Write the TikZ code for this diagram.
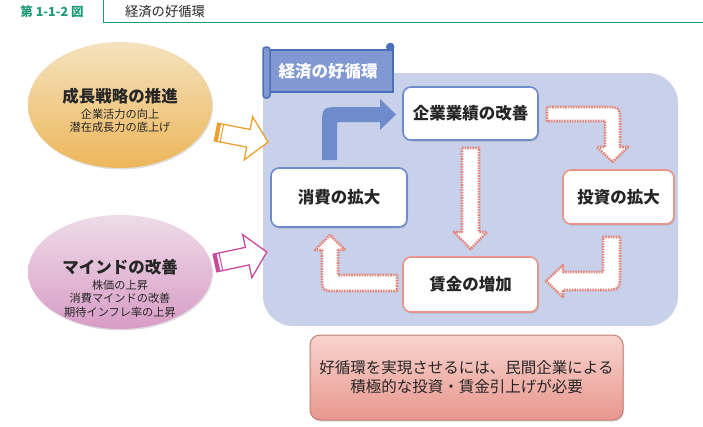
\documentclass[tikz,border=0pt]{standalone}
\usepackage{fontspec}
\setmainfont{Noto Sans CJK JP}
\usetikzlibrary{shadows}

\definecolor{hdgreen}{HTML}{1E9A7A}
\definecolor{cyclebg}{HTML}{C9D0EA}
\definecolor{bannerfill}{HTML}{8198D3}
\definecolor{bannerline}{HTML}{4B70BA}
\definecolor{blueline}{HTML}{6E8CCC}
\definecolor{salmon}{HTML}{E8948A}
\definecolor{dotsalmon}{HTML}{E2857B}
\definecolor{orangeline}{HTML}{EBA12E}
\definecolor{magline}{HTML}{C94A9A}
\definecolor{orangetop}{HTML}{F4E2BE}
\definecolor{orangebot}{HTML}{EDB65A}
\definecolor{pinktop}{HTML}{EEDCE8}
\definecolor{pinkbot}{HTML}{D89CC6}
\definecolor{needtop}{HTML}{F8D3CE}
\definecolor{needbot}{HTML}{E7978D}

\tikzset{
  card/.style={draw, fill=white, rounded corners=8pt, line width=1.6pt,
    font=\bfseries\fontsize{16.5}{18}\selectfont, text=black!85,
    drop shadow={shadow xshift=1pt, shadow yshift=-1.5pt, opacity=0.3}},
  bluecard/.style={card, draw=blueline},
  redcard/.style={card, draw=salmon},
  dotarrow/.style={fill=white, draw=dotsalmon, line width=2.6pt,
    dash pattern=on 1.6pt off 1pt, line join=round},
  heading/.style={font=\bfseries\fontsize{16.5}{18}\selectfont, text=black!85},
  sub/.style={font=\fontsize{11.2}{13.5}\selectfont, text=black!85}
}

\begin{document}
\begin{tikzpicture}[x=1pt, y={(0pt,-1pt)}]
  \useasboundingbox (0,0) rectangle (703,426);

  % header
  \draw[hdgreen, line width=1pt] (103,0) -- (103,22) -- (703,22);
  \node[text=hdgreen, font=\bfseries\fontsize{12.5}{14}\selectfont] (fignum) at (52,12) {第 1-1-2 図};
  \node[text=black!85, font=\fontsize{13.3}{15}\selectfont] (figtitle) at (165,12) {経済の好循環};

  % cycle panel
  \fill[cyclebg, rounded corners=30pt] (263,73) rectangle (678,326);

  % banner
  \draw[bannerline, fill=bannerfill, line width=1.5pt] (266,50) rectangle (393,92);
  \draw[bannerline, fill=bannerfill, line width=1.5pt, rounded corners=3pt] (263,47) rectangle (270,98);
  \fill[bannerline, rounded corners=3pt] (386,50) -- (386,44) -- (393,42) -- (395,50) -- cycle;
  \node[text=white, font=\bfseries\fontsize{16.5}{18}\selectfont] (banner) at (328,71) {経済の好循環};

  % inputs
  \shade[top color=orangetop, bottom color=orangebot,
    drop shadow={shadow xshift=1pt, shadow yshift=-1.5pt, opacity=0.25}]
    (120,105) ellipse (92pt and 63pt);
  \node[heading] (growth) at (120,96) {成長戦略の推進};
  \node[sub, align=center, anchor=north, inner sep=1pt] (growthsub) at (growth.south) {企業活力の向上\\潜在成長力の底上げ};

  \shade[top color=pinktop, bottom color=pinkbot,
    drop shadow={shadow xshift=1pt, shadow yshift=-1.5pt, opacity=0.25}]
    (120,272) ellipse (92pt and 57pt);
  \node[heading] (mind) at (120,267) {マインドの改善};
  \node[sub, align=center, anchor=north, inner sep=1pt] (mindsub) at (mind.south) {株価の上昇\\消費マインドの改善\\期待インフレ率の上昇};

  \begin{scope}[shift={(216,132)}, rotate=-11]
    \draw[orangeline, fill=white, line width=1.3pt, line join=miter]
      (0,-9) -- (33,-9) -- (33,-22) -- (53,0) -- (33,22) -- (33,9) -- (0,9) -- cycle;
    \fill[orangeline] (0,-9) rectangle (3.5,9);
    \draw[orangeline, line width=1pt] (6,-9) -- (6,9);
  \end{scope}
  \begin{scope}[shift={(215,263)}, rotate=12]
    \draw[magline, fill=white, line width=1.3pt, line join=miter]
      (0,-9) -- (33,-9) -- (33,-22) -- (53,0) -- (33,22) -- (33,9) -- (0,9) -- cycle;
    \fill[magline] (0,-9) rectangle (3.5,9);
    \draw[magline, line width=1pt] (6,-9) -- (6,9);
  \end{scope}

  % cycle boxes
  \node[bluecard, minimum width=135pt, minimum height=53pt] (profit) at (470.5,113.5) {企業業績の改善};
  \node[bluecard, minimum width=136pt, minimum height=59pt] (consume) at (339,197.5) {消費の拡大};
  \node[redcard, minimum width=111pt, minimum height=54pt] (invest) at (618.5,197) {投資の拡大};
  \node[redcard, minimum width=135pt, minimum height=55pt] (wage) at (470.5,284.5) {賃金の増加};

  % cycle arrows
  \fill[blueline] (322,160) -- (322,127) .. controls (322,107) .. (342,107)
    -- (380,107) -- (380,99) -- (396,114.5) -- (380,130) -- (380,122)
    -- (341,122) .. controls (337,122) .. (337,126) -- (337,160) -- cycle;
  \draw[dotarrow] (547,107) -- (603,107) .. controls (620,107) .. (620,124)
    -- (620,147) -- (628,147) -- (612.5,162) -- (597,147) -- (605,147)
    -- (605,121) -- (547,121) -- cycle;
  \draw[dotarrow] (462,148) -- (479,148) -- (479,232) -- (487,232)
    -- (470.5,249) -- (454,232) -- (462,232) -- cycle;
  \draw[dotarrow] (620,237) -- (620,272) .. controls (620,290) .. (602,290)
    -- (563,290) -- (563,297) -- (546,281) -- (563,265) -- (563,272)
    -- (603,272) -- (603,237) -- cycle;
  \draw[dotarrow] (397,275) -- (338,275) -- (338,250) -- (345,250)
    -- (330,235) -- (315,250) -- (322,250) -- (322,275)
    .. controls (322,291) .. (338,291) -- (397,291) -- cycle;

  % conclusion
  \node[draw=salmon!85!black, line width=1pt, rounded corners=10pt,
    top color=needtop, bottom color=needbot,
    drop shadow={shadow xshift=1pt, shadow yshift=-1.5pt, opacity=0.3},
    minimum width=313pt, minimum height=85pt, align=center,
    font=\fontsize{15.5}{19}\selectfont, text=black!85] (need) at (466.5,377.5)
    {好循環を実現させるには、民間企業による\\積極的な投資・賃金引上げが必要};
\end{tikzpicture}
\end{document}
